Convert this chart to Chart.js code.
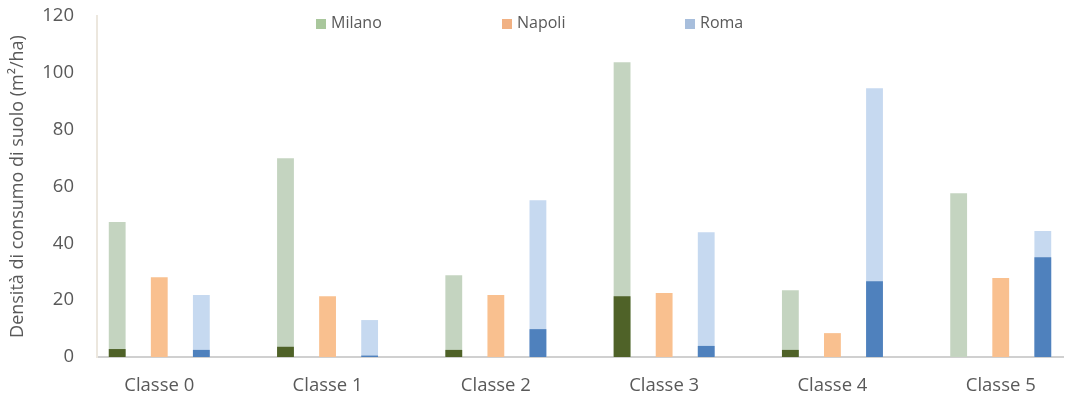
<!DOCTYPE html>
<html>
  <head>
    <meta charset="utf-8">
    <title>Densità di consumo di suolo</title>
    <script src="https://cdn.jsdelivr.net/npm/chart.js"></script>
    <style>
    body { margin: 0; background: #fff; }
    #wrap { position: relative; width: 1067px; height: 399px; }
    #legend { position: absolute; top: 12px; left: 0; font-family: "Open Sans", sans-serif; font-size: 16px; color: #595959; }
    #legend span { position: absolute; white-space: nowrap; line-height: 20px; }
    #legend i { display: inline-block; width: 10px; height: 10px; margin-right: 5px; vertical-align: -1px; }
  </style>
  </head>
  <body>
    <div id="wrap">
      <canvas id="soilChart" width="1067" height="399"></canvas>
      <div id="legend">
        <span style="left:316px"><i style="background:#a9c79c"></i>Milano</span>
        <span style="left:502px"><i style="background:#f1b183"></i>Napoli</span>
        <span style="left:685px"><i style="background:#a7bedc"></i>Roma</span>
      </div>
    </div>
    <script>
    // Categories and values
    const classes = ["Classe 0", "Classe 1", "Classe 2", "Classe 3", "Classe 4", "Classe 5"];
    const milanoTotal = [47.5, 69.9, 28.8, 103.7, 23.5, 57.6];
    const milanoDark = [2.8, 3.6, 2.5, 21.4, 2.5, 0];
    const napoliTotal = [28.1, 21.4, 21.8, 22.5, 8.4, 27.8];
    const romaTotal = [21.8, 13.0, 55.2, 43.9, 94.6, 44.3];
    const romaDark = [2.5, 0.5, 9.8, 3.9, 26.7, 35.1];
    const yTicks = [0, 20, 40, 60, 80, 100, 120];

    const points = (arr) => arr.map((v, i) => ({ x: i, y: v }));
    const font = { family: "'Open Sans', sans-serif", size: 18.5 };

    // bars that share a stack id sit in the same slot; the dark part is drawn over the light one
    const bar = (data, color, stack) => ({
      data: points(data),
      backgroundColor: color,
      stack: stack,
      categoryPercentage: 0.75,
      barPercentage: 0.4
    });

    new Chart(document.getElementById("soilChart"), {
      type: "bar",
      data: {
        datasets: [
          bar(milanoDark, "#4f6228", "Milano"),
          bar(milanoTotal, "#c4d4c0", "Milano"),
          bar(napoliTotal, "#f9c08f", "Napoli"),
          bar(romaDark, "#4f81bd", "Roma"),
          bar(romaTotal, "#c6d9f0", "Roma")
        ]
      },
      options: {
        responsive: false,
        animation: false,
        layout: { padding: { top: 16, right: 4, bottom: 0, left: 0 } },
        plugins: { legend: { display: false }, tooltip: { enabled: false } },
        scales: {
          x: {
            type: "linear",
            offset: false,
            min: -0.37,
            max: 5.37,
            afterBuildTicks: (scale) => { scale.ticks = classes.map((c, i) => ({ value: i })); },
            afterFit: (scale) => { scale.height = 42; },
            grid: { display: false, drawTicks: true, tickLength: 18 },
            border: { display: true, color: "#d0d0d0", width: 2 },
            ticks: {
              padding: 0,
              maxRotation: 0,
              color: "#595959",
              font: font,
              callback: (v) => classes[v]
            }
          },
          y: {
            stacked: false,
            min: 0,
            max: 120,
            afterBuildTicks: (scale) => { scale.ticks = yTicks.map((v) => ({ value: v })); },
            afterFit: (scale) => { scale.width = 97; },
            grid: { display: false, drawTicks: true, tickLength: 23 },
            border: { display: true, color: "#ece7de", width: 2 },
            ticks: { padding: 0, color: "#595959", font: font },
            title: {
              display: true,
              text: "Densità di consumo di suolo (m²/ha)",
              color: "#595959",
              font: { family: "'Open Sans', sans-serif", size: 18 },
              padding: { top: 7, bottom: 4 }
            }
          }
        }
      }
    });
  </script>
  </body>
</html>
